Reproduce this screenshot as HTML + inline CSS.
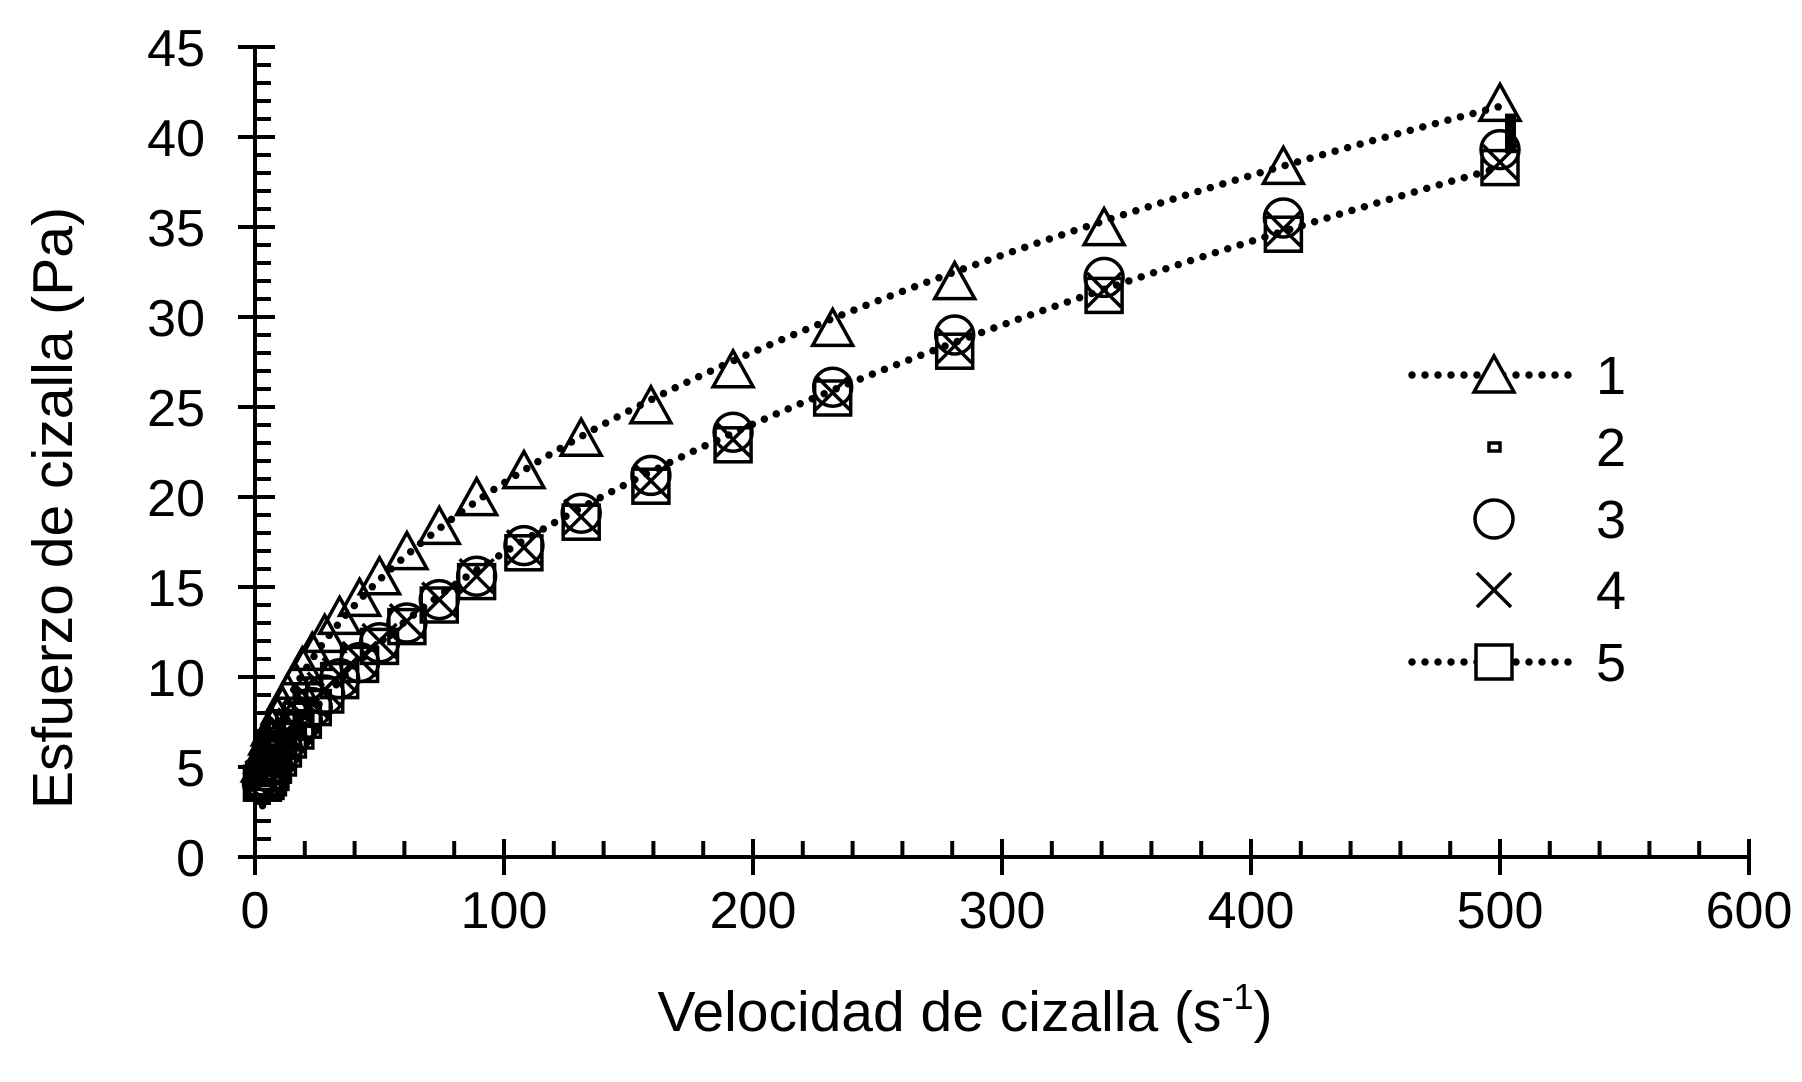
<!DOCTYPE html>
<html><head><meta charset="utf-8"><style>
html,body{margin:0;padding:0;background:#fff;}
svg{display:block;}
text{font-family:"Liberation Sans",sans-serif;fill:#000;}
</style></head><body>
<svg id="s" width="1802" height="1082" viewBox="0 0 1802 1082" xmlns="http://www.w3.org/2000/svg"></svg>
<script>
const S=document.getElementById('s');
const X0=255,Y0=857,PX=2.49,PY=18;
const X=v=>X0+v*PX, Y=v=>Y0-v*PY;
let h='';
h+=`<g stroke="#000" stroke-width="4" fill="none">`;
h+=`<line x1="${X0}" y1="${Y(45)}" x2="${X0}" y2="${Y0+2}"/>`;
h+=`<line x1="${X0-2}" y1="${Y0}" x2="${X(600)}" y2="${Y0}"/>`;
for(let v=0;v<=45;v++){ if(v%5==0) h+=`<line x1="${X0-17}" y1="${Y(v)}" x2="${X0+20}" y2="${Y(v)}"/>`; else h+=`<line x1="${X0}" y1="${Y(v)}" x2="${X0+16}" y2="${Y(v)}"/>`;}
for(let v=0;v<=600;v+=20){ if(v%100==0) h+=`<line x1="${X(v)}" y1="${Y0-18}" x2="${X(v)}" y2="${Y0+18}"/>`; else h+=`<line x1="${X(v)}" y1="${Y0-16}" x2="${X(v)}" y2="${Y0}"/>`;}
h+=`</g>`;
for(let v=0;v<=45;v+=5) h+=`<text x="205" y="${Y(v)+19}" font-size="52" text-anchor="end">${v}</text>`;
for(let v=0;v<=600;v+=100) h+=`<text x="${X(v)}" y="928" font-size="52" text-anchor="middle">${v}</text>`;
h+=`<text transform="translate(72,508) rotate(-90)" font-size="57" text-anchor="middle">Esfuerzo de cizalla (Pa)</text>`;
h+=`<text x="965" y="1031" font-size="57" text-anchor="middle">Velocidad de cizalla (s<tspan font-size="36" dy="-22">-1</tspan><tspan dy="22">)</tspan></text>`;
const xs=[500,413,341,281,232,192,159,131,108,89,74,61,50,42,34,28,23,19,16,13,11,9,7,6,5,4,3];
const up=[41.7,38.2,34.8,31.8,29.2,26.9,24.9,23.1,21.3,19.8,18.2,16.8,15.4,14.2,13.2,12.2,11.2,10.4,9.6,8.9,8.2,7.6,7,6.5,6,5.5,5];
const lo=[38.3,34.6,31.2,28.1,25.5,22.9,20.6,18.6,16.9,15.3,14,12.8,11.7,10.7,9.8,9,8.3,7.6,7,6.5,6,5.5,5.1,4.7,4.4,4.2,4.1];
const ci=[1,0.9,1,0.9,0.6,0.7,0.6,0.5,0.4,0.3,0.3,0.2,0.2,0.1,0.1,0,0,0,0,0,0,0,0,0,0,0,0];
const tri=(x,y)=>`<polygon points="${x},${y-22} ${x-20},${y+14} ${x+20},${y+14}"/>`;
const sq=(x,y)=>`<rect x="${x-18}" y="${y-17}" width="36" height="34"/>`;
const cir=(x,y)=>`<circle cx="${x}" cy="${y}" r="19"/>`;
const cr=(x,y)=>`<path d="M${x-17},${y-17}L${x+17},${y+17}M${x+17},${y-17}L${x-17},${y+17}"/>`;
h+=`<g stroke="#000" stroke-width="3.5" fill="none">`;
for(let i=xs.length-1;i>=0;i--){const x=X(xs[i]);
 h+=sq(x,Y(lo[i]));h+=cr(x,Y(lo[i]+0.3));h+=cir(x,Y(lo[i]+ci[i]));h+=tri(x,Y(up[i]));}
h+=`</g>`;
h+=`<rect x="${X(502)}" y="${Y(41.3)}" width="11" height="${2.2*PY}" fill="#000"/>`;
function tl(a,b){let p='';for(let v=3;v<=500;v+=1){p+=(v==3?'M':'L')+X(v).toFixed(1)+','+Y(a*Math.pow(v,b)).toFixed(1);}return `<path d="${p}" stroke="#000" stroke-width="7.5" stroke-linecap="round" stroke-dasharray="0 13" fill="none"/>`;}
h+=tl(2.835,0.4326);h+=tl(1.63,0.508);
const ly=[375,447,519,590,662];
h+=`<g stroke="#000" stroke-width="7.5" stroke-linecap="round" stroke-dasharray="0 13"><line x1="1412" y1="375" x2="1577" y2="375"/><line x1="1412" y1="662" x2="1577" y2="662"/></g>`;
h+=`<g stroke="#000" stroke-width="3.5" fill="#fff">${tri(1494,378)}<rect x="1489" y="443" width="11" height="8"/>${cir(1494,519)}${cr(1494,590)}${sq(1494,662)}</g>`;
ly.forEach((y,i)=>h+=`<text x="1611" y="${y+19}" font-size="54" text-anchor="middle">${i+1}</text>`);
S.innerHTML=h;
</script>
</body></html>
